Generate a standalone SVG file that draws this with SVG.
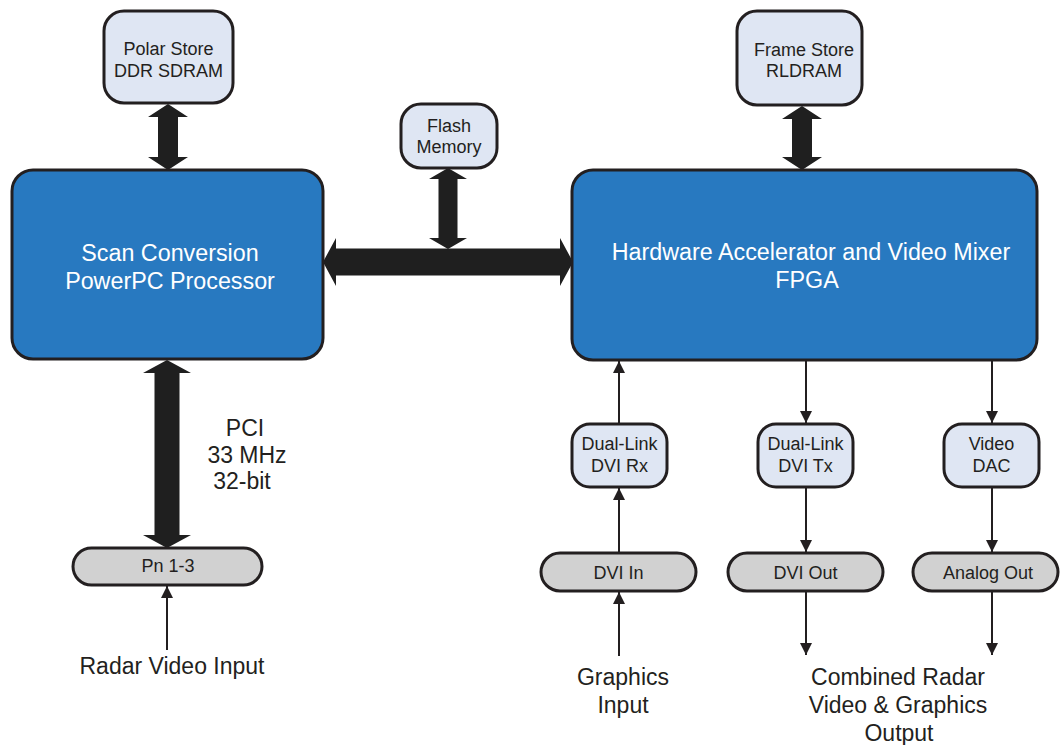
<svg xmlns="http://www.w3.org/2000/svg" width="1060" height="745" viewBox="0 0 1060 745">
  <defs>
    <style>
      .main { fill: #2879c0; stroke: #231f20; stroke-width: 3; }
      .mem { fill: #dfe6f3; stroke: #231f20; stroke-width: 3; }
      .pill { fill: #d1d1d1; stroke: #231f20; stroke-width: 3; }
      .bus { fill: #1f1f1f; stroke: none; }
      .line { stroke: #231f20; stroke-width: 2; fill: none; marker-end: url(#arr); }
      text { font-family: "Liberation Sans", Arial, Helvetica, sans-serif; text-anchor: middle; fill: #231f20; }
      .t18 { font-size: 18px; }
      .t23 { font-size: 23px; }
      .white { fill: #ffffff; font-size: 23.3px; }
    </style>
    <marker id="arr" viewBox="0 0 12 12" refX="12" refY="6" markerWidth="12" markerHeight="12" markerUnits="userSpaceOnUse" orient="auto">
      <path d="M0,0 L12,6 L0,12 Z" fill="#231f20"/>
    </marker>
  </defs>

  <g id="connectors">
    <polygon class="bus" points="168,104 188,117 178,117 178,157 188,157 168,170 148,157 158,157 158,117 148,117"/>
    <polygon class="bus" points="802,106 822,119 812,119 812,157 822,157 802,170 782,157 792,157 792,119 782,119"/>
    <polygon class="bus" points="448,168 467,179 457.5,179 457.5,238 467,238 448,249 429,238 438.5,238 438.5,179 429,179"/>
    <polygon class="bus" points="323,262 336,238 336,248.5 560,248.5 560,238 573,262 560,286 560,275.5 336,275.5 336,286"/>
    <polygon class="bus" points="167,360 191,373 179.5,373 179.5,535 191,535 167,548 143,535 154.5,535 154.5,373 143,373"/>
    <line class="line" x1="167" y1="650" x2="167" y2="586"/>
    <line class="line" x1="619" y1="424" x2="619" y2="361"/>
    <line class="line" x1="619" y1="553" x2="619" y2="488"/>
    <line class="line" x1="619" y1="656" x2="619" y2="592"/>
    <line class="line" x1="806" y1="360" x2="806" y2="423"/>
    <line class="line" x1="806" y1="487" x2="806" y2="552"/>
    <line class="line" x1="806" y1="591" x2="806" y2="655"/>
    <line class="line" x1="992" y1="360" x2="992" y2="423"/>
    <line class="line" x1="992" y1="487" x2="992" y2="552"/>
    <line class="line" x1="992" y1="591" x2="992" y2="655"/>
  </g>

  <g id="polar-store">
    <rect class="mem" x="104" y="11" width="129" height="92" rx="20"/>
    <text class="t18" x="168.5" y="55">Polar Store</text>
    <text class="t18" x="168.5" y="77">DDR SDRAM</text>
  </g>

  <g id="flash-memory">
    <rect class="mem" x="401" y="104" width="96" height="64" rx="20"/>
    <text class="t18" x="449" y="132">Flash</text>
    <text class="t18" x="449" y="153">Memory</text>
  </g>

  <g id="frame-store">
    <rect class="mem" x="737" y="11" width="125" height="94" rx="20"/>
    <text class="t18" x="804" y="56">Frame Store</text>
    <text class="t18" x="804" y="77">RLDRAM</text>
  </g>

  <g id="scan-conversion">
    <rect class="main" x="12" y="170" width="311" height="189" rx="21"/>
    <text class="white" x="170" y="261">Scan Conversion</text>
    <text class="white" x="170" y="289">PowerPC Processor</text>
  </g>

  <g id="fpga">
    <rect class="main" x="572" y="170" width="465" height="190" rx="21"/>
    <text class="white" x="811" y="260">Hardware Accelerator and Video Mixer</text>
    <text class="white" x="807" y="288">FPGA</text>
  </g>

  <g id="pci-label">
    <text class="t23" x="245" y="436">PCI</text>
    <text class="t23" x="247" y="463">33 MHz</text>
    <text class="t23" x="242" y="489">32-bit</text>
  </g>

  <g id="pn13">
    <rect class="pill" x="73" y="548" width="189" height="37" rx="18.5"/>
    <text class="t18" x="168" y="572">Pn 1-3</text>
  </g>

  <g id="radar-input">
    <text class="t23" x="172" y="674">Radar Video Input</text>
  </g>

  <g id="dvi-rx">
    <rect class="mem" x="572" y="424" width="95" height="63" rx="18"/>
    <text class="t18" x="619.5" y="450">Dual-Link</text>
    <text class="t18" x="619.5" y="472">DVI Rx</text>
  </g>

  <g id="dvi-tx">
    <rect class="mem" x="758" y="424" width="95" height="63" rx="18"/>
    <text class="t18" x="805.5" y="450">Dual-Link</text>
    <text class="t18" x="805.5" y="472">DVI Tx</text>
  </g>

  <g id="video-dac">
    <rect class="mem" x="944" y="424" width="95" height="63" rx="18"/>
    <text class="t18" x="991.5" y="450">Video</text>
    <text class="t18" x="991.5" y="472">DAC</text>
  </g>

  <g id="dvi-in">
    <rect class="pill" x="541" y="553" width="155" height="38" rx="19"/>
    <text class="t18" x="618.5" y="579">DVI In</text>
  </g>

  <g id="dvi-out">
    <rect class="pill" x="728" y="553" width="155" height="38" rx="19"/>
    <text class="t18" x="805.5" y="579">DVI Out</text>
  </g>

  <g id="analog-out">
    <rect class="pill" x="913" y="553" width="145" height="38" rx="19"/>
    <text class="t18" x="988" y="579">Analog Out</text>
  </g>

  <g id="graphics-input">
    <text class="t23" x="623" y="685">Graphics</text>
    <text class="t23" x="623" y="713">Input</text>
  </g>

  <g id="combined-output">
    <text class="t23" x="898" y="685">Combined Radar</text>
    <text class="t23" x="898" y="713">Video &amp; Graphics</text>
    <text class="t23" x="899" y="741">Output</text>
  </g>
</svg>
